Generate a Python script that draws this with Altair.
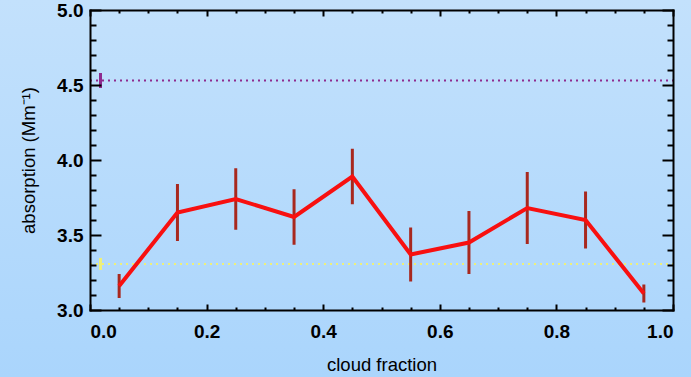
import altair as alt
import pandas as pd

# data
cloud_fraction = [0.05, 0.15, 0.25, 0.35, 0.45, 0.55, 0.65, 0.75, 0.85, 0.95]
absorption = [3.16, 3.65, 3.74, 3.62, 3.89, 3.37, 3.45, 3.68, 3.60, 3.11]
abs_error = [0.08, 0.19, 0.205, 0.185, 0.185, 0.18, 0.21, 0.24, 0.19, 0.06]

ref_names = ["purple", "yellow"]
ref_values = [4.53, 3.307]
ref_errors = [0.05, 0.04]
ref_marker_x = [0.018, 0.018]
ref_line_start = [0.0, 0.0]
ref_line_end = [1.0, 1.0]
ref_colors = ["#8e2a8e", "#eef07a"]

x_major = [0.0, 0.2, 0.4, 0.6, 0.8, 1.0]
x_all_ticks = [0.0, 0.05, 0.1, 0.15, 0.2, 0.25, 0.3, 0.35, 0.4, 0.45, 0.5,
               0.55, 0.6, 0.65, 0.7, 0.75, 0.8, 0.85, 0.9, 0.95, 1.0]
y_major = [3.0, 3.5, 4.0, 4.5, 5.0]
y_all_ticks = [3.0, 3.1, 3.2, 3.3, 3.4, 3.5, 3.6, 3.7, 3.8, 3.9, 4.0,
               4.1, 4.2, 4.3, 4.4, 4.5, 4.6, 4.7, 4.8, 4.9, 5.0]

df = pd.DataFrame({"x": cloud_fraction, "y": absorption, "err": abs_error})
df["lo"] = df["y"] - df["err"]
df["hi"] = df["y"] + df["err"]

ref = pd.DataFrame({"name": ref_names, "y": ref_values, "err": ref_errors,
                    "mx": ref_marker_x, "x0": ref_line_start, "x1": ref_line_end,
                    "color": ref_colors})
ref["lo"] = ref["y"] - ref["err"]
ref["hi"] = ref["y"] + ref["err"]

W, H = 583, 300
xs = alt.Scale(domain=[0, 1], nice=False, zero=False)
ys = alt.Scale(domain=[3, 5], nice=False, zero=False)
FONT = "Liberation Sans"

x_tick_size = {"condition": {"test": "abs(datum.value*5 - round(datum.value*5)) < 0.001", "value": 6}, "value": 3}
y_tick_size = {"condition": {"test": "abs(datum.value*2 - round(datum.value*2)) < 0.001", "value": 11}, "value": 6}

def tick_axis(orient, offset, values, size):
    return alt.Axis(orient=orient, offset=offset, values=values, tickSize=size,
                    tickWidth=2, tickColor="black", labels=False, domain=True,
                    domainColor="black", domainWidth=2, domainCap="square",
                    grid=False, title=None, zindex=1)

background = alt.Chart(pd.DataFrame({"a": [0]})).mark_rect(
    fill={"gradient": "linear", "x1": 0, "y1": 0, "x2": 0, "y2": 1,
          "stops": [{"offset": 0, "color": "#c3e1fc"},
                    {"offset": 1, "color": "#aad5fc"}]}
).encode(x=alt.value(-90), x2=alt.value(W + 18), y=alt.value(-10), y2=alt.value(H + 67))

ref_lines = alt.Chart(ref).mark_rule(strokeWidth=2, strokeDash=[2, 4]).encode(
    x=alt.X("x0:Q", scale=xs, axis=tick_axis("bottom", -H, x_all_ticks, x_tick_size)),
    x2="x1:Q",
    y=alt.Y("y:Q", scale=ys, axis=tick_axis("left", -W, y_all_ticks, y_tick_size)),
    color=alt.Color("color:N", scale=None),
)

ref_marks = alt.Chart(ref).mark_rule(strokeWidth=3).encode(
    x=alt.X("mx:Q", scale=xs, axis=None),
    y=alt.Y("lo:Q", scale=ys, axis=None),
    y2="hi:Q",
    color=alt.Color("color:N", scale=None),
)

errbars = alt.Chart(df).mark_rule(strokeWidth=3, color="#a8281e").encode(
    x=alt.X("x:Q", scale=xs, axis=tick_axis("top", -H, x_all_ticks, x_tick_size)),
    y=alt.Y("lo:Q", scale=ys, axis=tick_axis("right", -W, y_all_ticks, y_tick_size)),
    y2="hi:Q",
)

line = alt.Chart(df).mark_line(strokeWidth=4, color="#f81010").encode(
    x=alt.X("x:Q", scale=xs, axis=alt.Axis(
        orient="bottom", values=x_major, format=".1f", ticks=False, domain=False,
        grid=False, labelFont=FONT, labelFontWeight="bold", labelFontSize=19,
        labelColor="black", labelPadding=12, title="cloud fraction",
        titleFont=FONT, titleFontWeight="normal", titleFontSize=18.5,
        titleColor="black", titlePadding=14, zindex=1)),
    y=alt.Y("y:Q", scale=ys, axis=alt.Axis(
        orient="left", values=y_major, format=".1f", ticks=False, domain=False,
        grid=False, labelFont=FONT, labelFontWeight="bold", labelFontSize=19,
        labelColor="black", labelPadding=7, title="absorption (Mm⁻¹)",
        titleFont=FONT, titleFontWeight="normal", titleFontSize=18.5,
        titleColor="black", titlePadding=18, zindex=1)),
)

chart = alt.layer(background, ref_lines, ref_marks, errbars, line).resolve_axis(
    x="independent", y="independent"
).properties(
    width=W, height=H,
    autosize=alt.AutoSizeParams(type="none"),
    padding={"left": 90, "top": 10, "right": 18, "bottom": 67},
    background="#b7dbfc",
).configure_view(stroke=None)

chart.save("out.html", embed_options={"renderer": "svg", "actions": False})
